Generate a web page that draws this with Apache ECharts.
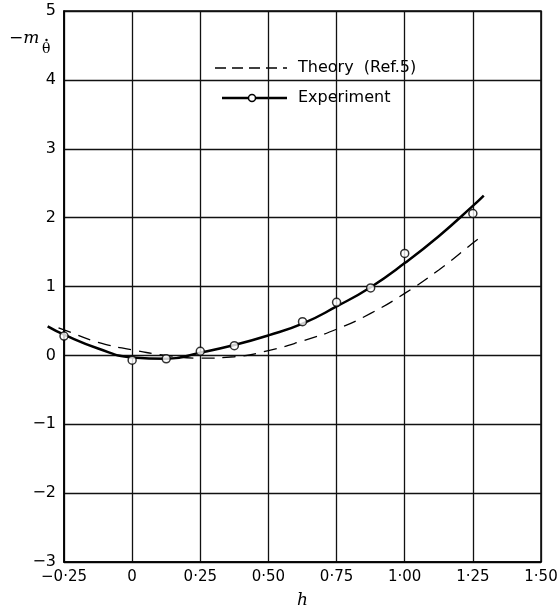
<!DOCTYPE html>
<html>
<head>
<meta charset="utf-8">
<script src="https://cdn.jsdelivr.net/npm/echarts@6/dist/echarts.min.js"></script>
<style>
  html, body { margin: 0; padding: 0; background: #fff; }
  #chart { width: 557px; height: 607px; }
</style>
</head>
<body>
<div id="chart"></div>
<script>
// experiment points (circles)
var expX = [-0.25, 0, 0.125, 0.25, 0.375, 0.625, 0.75, 0.875, 1.0, 1.25];
var expY = [0.28, -0.07, -0.05, 0.06, 0.14, 0.49, 0.77, 0.98, 1.48, 2.06];
// faired experiment curve
var fitX = [-0.31, -0.25, -0.125, 0, 0.125, 0.25, 0.375, 0.5, 0.625, 0.75, 0.875, 1.0, 1.125, 1.25, 1.29];
var fitY = [0.42, 0.30, 0.10, -0.03, -0.05, 0.04, 0.15, 0.29, 0.46, 0.71, 0.99, 1.34, 1.73, 2.17, 2.32];
// theory (Ref.5), dashed
var theoryX = [-0.27, -0.25, -0.125, 0, 0.125, 0.25, 0.375, 0.5, 0.625, 0.75, 0.875, 1.0, 1.125, 1.25, 1.28];
var theoryY = [0.40, 0.37, 0.19, 0.08, 0.0, -0.04, -0.02, 0.07, 0.21, 0.38, 0.61, 0.90, 1.24, 1.63, 1.72];

(function (echarts) {
  "use strict";
  var chart = echarts.init(document.getElementById('chart'));
  var font = 'DejaVu Sans';
  //main grid box
  var gLeft = 64, gRight = 16, gTop = 11, gBottom = 45;
  var xMin = -0.25, xMax = 1.5;
  //curves run a bit past the left axis, so they get a wider hidden grid with the same scale
  var xMinWide = -0.35;
  var pxPerUnit = (557 - gLeft - gRight) / (xMax - xMin);
  var wideLeft = gLeft - (xMin - xMinWide) * pxPerUnit;

  function pairs(xs, ys) {
    return xs.map(function (x, i) { return [x, ys[i]]; });
  }
  //x tick labels like 0·25
  function xLabel(v) {
    if (v === 0) return '0';
    return v.toFixed(2).replace('.', '·').replace('-', '−');
  }
  function yLabel(v) {
    return v < 0 ? '−' + (-v) : String(v);
  }

  var option = {
    backgroundColor: '#fff',
    animation: false,
    grid: [
      { left: gLeft, right: gRight, top: gTop, bottom: gBottom, outerBoundsMode: 'none', containLabel: false,
        show: true, borderColor: '#000', borderWidth: 1.5 },
      { left: wideLeft, right: gRight, top: gTop, bottom: gBottom, outerBoundsMode: 'none', containLabel: false }
    ],
    xAxis: [
      {
        type: 'value', min: xMin, max: xMax, interval: 0.25,
        name: 'h', nameLocation: 'middle', nameGap: 30,
        nameTextStyle: { fontFamily: 'DejaVu Serif', fontStyle: 'italic', fontSize: 17, color: '#000' },
        axisLine: { onZero: false, lineStyle: { color: '#000', width: 1.5 } },
        axisTick: { show: false },
        axisLabel: { formatter: xLabel, fontFamily: font, fontSize: 15, color: '#000', margin: 8 },
        splitLine: { lineStyle: { color: '#111', width: 1.3 } }
      },
      { type: 'value', gridIndex: 1, min: xMinWide, max: xMax, show: false, splitLine: { show: false } }
    ],
    yAxis: [
      {
        type: 'value', min: -3, max: 5, interval: 1,
        axisLine: { show: true, onZero: false, lineStyle: { color: '#000', width: 1.5 } },
        axisTick: { show: false },
        axisLabel: { formatter: yLabel, fontFamily: font, fontSize: 16, color: '#000', margin: 8 },
        splitLine: { lineStyle: { color: '#111', width: 1.3 } }
      },
      { type: 'value', gridIndex: 1, min: -3, max: 5, show: false, splitLine: { show: false } }
    ],
    series: [
      {
        name: 'Theory', type: 'line', xAxisIndex: 1, yAxisIndex: 1, data: pairs(theoryX, theoryY),
        smooth: true, symbol: 'none', z: 3,
        lineStyle: { color: '#000', width: 1.3, type: [13, 8] }
      },
      {
        name: 'Experiment', type: 'line', xAxisIndex: 1, yAxisIndex: 1, data: pairs(fitX, fitY),
        smooth: true, symbol: 'none', z: 3,
        lineStyle: { color: '#000', width: 2.5 }
      },
      {
        name: 'Points', type: 'scatter', data: pairs(expX, expY),
        symbol: 'circle', symbolSize: 8, z: 4,
        itemStyle: { color: '#fff', borderColor: '#000', borderWidth: 1.5 }
      }
    ],
    graphic: [
      //y axis name  -m with theta-dot subscript
      { type: 'text', left: 9, top: 30, style: { text: '−m', font: 'italic 17px "DejaVu Serif"', fill: '#000' } },
      { type: 'text', left: 42, top: 42, style: { text: 'θ', font: '14px "DejaVu Serif"', fill: '#000' } },
      { type: 'circle', shape: { cx: 46.5, cy: 40, r: 1.2 }, style: { fill: '#000' } },
      //legend box drawn by hand, it blanks out the grid behind it
      {
        type: 'group', z: 10,
        children: [
          { type: 'rect', shape: { x: 203, y: 33, width: 264, height: 110 }, style: { fill: '#fff' } },
          { type: 'line', shape: { x1: 215, y1: 68, x2: 287, y2: 68 }, style: { stroke: '#000', lineWidth: 1.3, lineDash: [11, 6] } },
          { type: 'text', left: 298, top: 60, style: { text: 'Theory  (Ref.5)', font: '16px "DejaVu Sans"', fill: '#000' } },
          { type: 'line', shape: { x1: 222, y1: 98, x2: 287, y2: 98 }, style: { stroke: '#000', lineWidth: 2.5 } },
          { type: 'circle', shape: { cx: 252, cy: 98, r: 3.5 }, style: { fill: '#fff', stroke: '#000', lineWidth: 1.5 } },
          { type: 'text', left: 298, top: 90, style: { text: 'Experiment', font: '16px "DejaVu Sans"', fill: '#000' } }
        ]
      }
    ]
  };

  chart.setOption(option);
})(echarts);
</script>
</body>
</html>
